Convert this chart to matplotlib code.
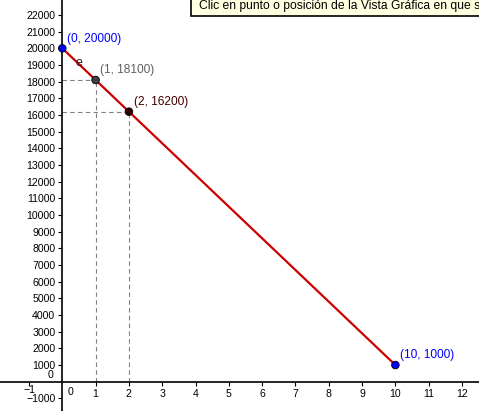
import matplotlib.pyplot as plt
from matplotlib.patches import Rectangle

plt.rcParams['font.family'] = ['Liberation Sans', 'DejaVu Sans']

# ----- Data ----- #
line_x = [0, 10]
line_y = [20000, 1000]

pt_x = [0, 1, 2, 10]
pt_y = [20000, 18100, 16200, 1000]
pt_colors = ['#0000ff', '#404040', '#330000', '#0000ff']
pt_labels = ['(0, 20000)', '(1, 18100)', '(2, 16200)', '(10, 1000)']
label_colors = ['#0000ff', '#606060', '#400000', '#0000ff']

guide_x = [1, 2]
guide_y = [18100, 16200]

x_ticks = [-1, 1, 2, 3, 4, 5, 6, 7, 8, 9, 10, 11, 12]
y_ticks = [-1000] + list(range(1000, 23000, 1000))

# ----- Figure ----- #
fig = plt.figure(figsize=(4.79, 4.11), dpi=100)
ax = fig.add_axes([0, 0, 1, 1])
ax.set_xlim(-1.87, 12.51)
ax.set_ylim(-1758, 22898)

for side in ['right', 'top']:
    ax.spines[side].set_visible(False)
ax.spines['left'].set_position(('data', 0))
ax.spines['bottom'].set_position(('data', 0))
ax.spines['left'].set_linewidth(1.2)
ax.spines['bottom'].set_linewidth(1.2)

# x label for -1 sits higher (drawn below), others via ticks
ax.set_xticks(x_ticks)
ax.set_xticklabels(['' if v == -1 else str(v) for v in x_ticks])
ax.set_yticks(y_ticks)
ax.set_yticklabels([str(v).replace('-', '\u2212') for v in y_ticks])
ax.tick_params(axis='both', direction='out', length=3, width=0.8,
               labelsize=7.6, pad=2)

ax.text(-1, -200, '\u22121', fontsize=7.6, ha='center', va='top')

# origin labels
ax.text(0.17, -300, '0', fontsize=7.6, ha='left', va='top')
ax.text(-0.27, 400, '0', fontsize=7.6, ha='right', va='center')

# dashed guides
for gx, gy in zip(guide_x, guide_y):
    ax.plot([0, gx], [gy, gy], color='#808080', lw=0.8, ls=(0, (4, 3)))
    ax.plot([gx, gx], [0, gy], color='#808080', lw=0.8, ls=(0, (4, 3)))

# segment
ax.plot(line_x, line_y, color='#cc0000', lw=1.6, zorder=3)
ax.text(0.5, 19100, 'e', fontsize=9, color='#202020', ha='center', va='center')

# points
ax.scatter(pt_x, pt_y, s=30, c=pt_colors, edgecolors='black',
           linewidths=0.6, zorder=4, clip_on=False)
for x, y, lab, col in zip(pt_x, pt_y, pt_labels, label_colors):
    ax.annotate(lab, (x, y), xytext=(3.5, 7), textcoords='offset points',
                fontsize=8.6, color=col, ha='left', va='center')

# tooltip box
ax.add_patch(Rectangle((190.5, 395), 300, 30, transform=None,
                       facecolor='#ffffe1', edgecolor='black', lw=1.2,
                       clip_on=False))
ax.text(199, 405.5, 'Clic en punto o posición de la Vista Gráfica en que s',
        transform=None, fontsize=8.75, ha='left', va='center')

fig.savefig('out.png', dpi=100)
